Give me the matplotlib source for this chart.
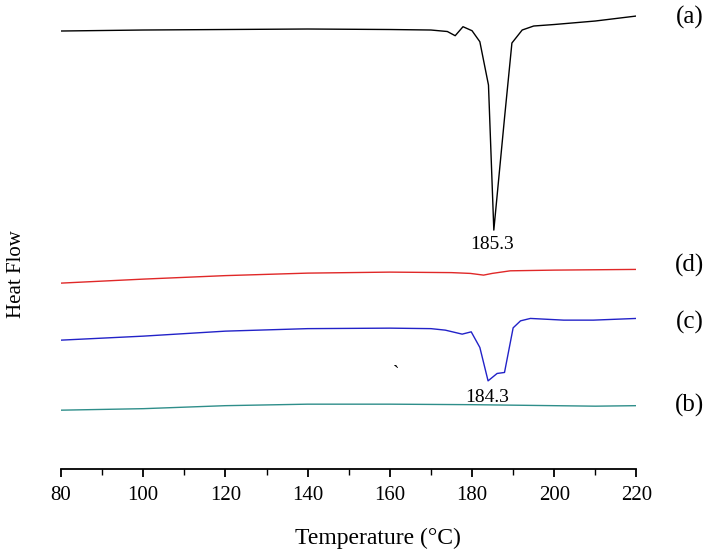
import matplotlib
matplotlib.use("Agg")
from matplotlib import pyplot as plt
from matplotlib.ticker import MultipleLocator

plt.rcParams['font.family'] = ['Liberation Serif', 'DejaVu Serif']

# DSC curves (arbitrary heat flow units)
temp_a = [80, 100, 120, 140, 160, 170, 174, 175.9, 177.8, 180.0, 181.9, 184.0, 185.3,
          187.9, 189.7, 192.2, 195, 200, 210, 220]
flow_a = [438, 439, 439.5, 440, 439.5, 439, 437.5, 433.3, 442.3, 438.3, 427.3, 384, 239,
          351, 426, 439, 443, 444.5, 448, 453]

temp_d = [80, 100, 120, 140, 160, 175, 179.6, 182.8, 184.9, 189.3, 200, 220]
flow_d = [186, 190, 193.5, 196, 197, 196.5, 195.7, 194, 195.7, 198.3, 199, 199.7]

temp_c = [80, 100, 120, 140, 160, 170, 173.5, 177.6, 179.8, 181.9, 183.9, 186.1, 187.9,
          190.0, 191.8, 194.2, 202.3, 209.5, 220]
flow_c = [129, 133, 138, 140.5, 141, 140.5, 139, 135, 137.3, 121.7, 88.3, 95.7, 96.7,
          141.3, 148.3, 150.7, 149, 149, 150.7]

temp_b = [80, 100, 120, 140, 160, 180, 200, 210, 220]
flow_b = [59, 60.5, 63.5, 65, 65, 64.5, 63.5, 63, 63.5]

curve_labels = ["(a)", "(d)", "(c)", "(b)"]
peak_labels = ["185.3", "184.3"]

fig = plt.figure(figsize=(7.14, 5.52), dpi=100)
ax = fig.add_axes([0.0854, 0.150, 0.806, 0.850])

ax.plot(temp_a, flow_a, color="black", lw=1.0)
ax.plot(temp_d, flow_d, color="#e02828", lw=1.0)
ax.plot(temp_c, flow_c, color="#2222c8", lw=1.0)
ax.plot(temp_b, flow_b, color="#2e8e8a", lw=1.0)

ax.set_xlim(80, 220)
ax.set_ylim(0, 469)

# curve tags outside the right edge
label_y = [452, 204, 147, 64]
for txt, y in zip(curve_labels, label_y):
    ax.text(1.092, y, txt, transform=ax.get_yaxis_transform(), fontsize=18,
            ha="center", va="center")

ax.text(185.0, 225, peak_labels[0], fontsize=14, ha="center", va="center")
ax.text(183.7, 72, peak_labels[1], fontsize=14, ha="center", va="center")
ax.text(161.5, 96, "`", fontsize=14, ha="center", va="center")

for side in ["top", "right", "left"]:
    ax.spines[side].set_visible(False)
ax.spines["bottom"].set_linewidth(1.3)
ax.set_yticks([])
ax.xaxis.set_major_locator(MultipleLocator(20))
ax.xaxis.set_minor_locator(MultipleLocator(10))
ax.tick_params(axis="x", which="major", direction="out", length=6, width=1.3,
               labelsize=15, pad=6)
ax.tick_params(axis="x", which="minor", direction="out", length=4, width=1.0)

ax.set_xlabel("Temperature (°C)", fontsize=17)
ax.xaxis.set_label_coords(0.551, -0.125)
ax.set_ylabel("Heat Flow", fontsize=15)
ax.yaxis.set_label_coords(-0.06, 0.415)

fig.savefig("out.png", dpi=100)
